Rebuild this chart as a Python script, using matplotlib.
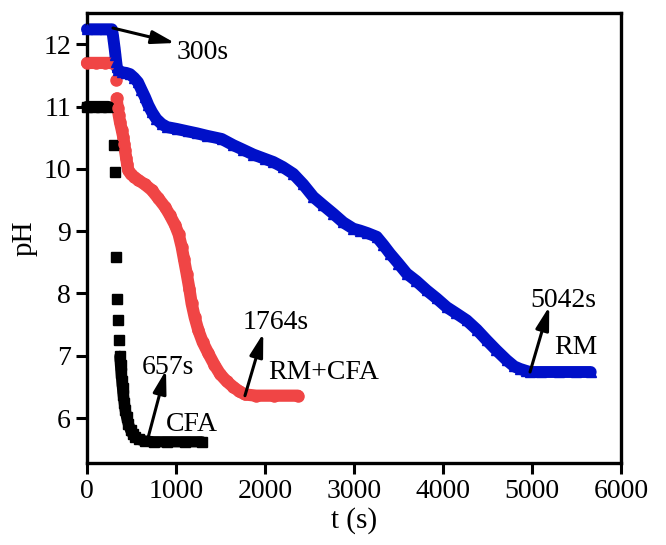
import numpy as np
import matplotlib
matplotlib.use("Agg")
import matplotlib.pyplot as plt

plt.rcParams['font.family'] = ['Liberation Serif', 'DejaVu Serif']

# --- data (t in s, pH) ---
cfa_t = [0, 80, 160, 240, 300, 312, 326, 337, 348, 360, 370, 377, 385, 392, 400,
         408, 419, 430, 445, 464, 490, 515, 539, 580, 652, 750, 900, 1100, 1290]
cfa_ph = [11.0, 11.0, 11.0, 11.0, 10.38, 9.95, 8.58, 7.91, 7.57, 7.26, 6.99, 6.85,
          6.72, 6.60, 6.48, 6.37, 6.25, 6.13, 6.02, 5.91, 5.81, 5.74, 5.70, 5.66,
          5.63, 5.62, 5.62, 5.62, 5.62]

mix_t = [0, 100, 200, 280, 322, 333, 345, 357, 371, 390, 408, 418, 427, 440, 452,
         464, 490, 530, 577, 650, 727, 800, 876, 930, 989, 1030, 1064, 1090, 1120,
         1150, 1176, 1210, 1251, 1300, 1363, 1430, 1494, 1570, 1644, 1710, 1775,
         1900, 2100, 2370]
mix_ph = [11.70, 11.70, 11.70, 11.70, 11.42, 11.13, 10.98, 10.86, 10.75, 10.63,
          10.51, 10.40, 10.30, 10.18, 10.07, 9.98, 9.92, 9.87, 9.82, 9.75, 9.66,
          9.53, 9.39, 9.26, 9.10, 8.95, 8.75, 8.55, 8.32, 8.08, 7.84, 7.62, 7.41,
          7.22, 7.04, 6.86, 6.71, 6.59, 6.50, 6.43, 6.38, 6.36, 6.36, 6.36]

rm_t = [0, 100, 200, 280, 292, 302, 312, 320, 328, 336, 350, 390, 440, 483, 530,
        573, 612, 652, 690, 730, 780, 839, 900, 1011, 1138, 1236, 1350, 1513,
        1644, 1750, 1869, 2000, 2094, 2200, 2318, 2430, 2543, 2650, 2768, 2880,
        2992, 3067, 3150, 3255, 3330, 3405, 3500, 3592, 3700, 3817, 3930, 4042,
        4150, 4266, 4380, 4491, 4600, 4716, 4800, 4865, 4930, 4978, 5100, 5300,
        5500, 5660]
rm_ph = [12.24, 12.24, 12.24, 12.24, 12.14, 12.03, 11.92, 11.82, 11.72, 11.63,
         11.58, 11.55, 11.54, 11.52, 11.46, 11.39, 11.27, 11.15, 11.02, 10.91,
         10.80, 10.72, 10.67, 10.64, 10.60, 10.57, 10.53, 10.48, 10.38, 10.31,
         10.23, 10.16, 10.11, 10.03, 9.92, 9.75, 9.55, 9.42, 9.28, 9.14, 9.04,
         9.01, 8.97, 8.91, 8.78, 8.64, 8.48, 8.32, 8.20, 8.05, 7.92, 7.78, 7.68,
         7.57, 7.42, 7.25, 7.09, 6.93, 6.83, 6.79, 6.76, 6.74, 6.74, 6.74, 6.74,
         6.74]

fig = plt.figure(figsize=(6.66, 5.45), dpi=100)
ax = fig.add_axes([0.1306, 0.1505, 0.8018, 0.8255])


def draw(t, ph, color, marker, ms):
    t = np.asarray(t, float)
    ph = np.asarray(ph, float)
    # connect only neighbours whose markers overlap anyway
    lt, lp = [t[0]], [ph[0]]
    for i in range(1, len(t)):
        if abs(ph[i] - ph[i - 1]) > 0.26:
            lt.append(np.nan)
            lp.append(np.nan)
        lt.append(t[i])
        lp.append(ph[i])
    ax.plot(lt, lp, '-', color=color, lw=ms * 1.1, solid_capstyle='round',
            solid_joinstyle='round', clip_on=False, zorder=2)
    ax.plot(t, ph, linestyle='none', marker=marker, ms=ms, color=color,
            mec=color, clip_on=False, zorder=3)


draw(cfa_t, cfa_ph, 'black', 's', 7.4)
draw(mix_t, mix_ph, '#F04545', 'o', 8.0)
draw(rm_t, rm_ph, '#0010C8', '^', 7.8)

ax.set_xlim(0, 6000)
ax.set_ylim(5.28, 12.5)
ax.set_xticks(range(0, 6001, 1000))
ax.set_yticks(range(6, 13))
ax.tick_params(axis='both', direction='out', length=8, width=2.2,
               labelsize=20, top=False, right=False)
for sp in ax.spines.values():
    sp.set_linewidth(2.4)

ax.set_xlabel('t (s)', fontsize=21, labelpad=2)
ax.set_ylabel('pH', fontsize=21, labelpad=4)

arrow = dict(arrowstyle='-|>,head_length=0.7,head_width=0.2',
             mutation_scale=20, lw=2.2, color='black',
             shrinkA=0, shrinkB=0)
fs = 20

# 300s
ax.annotate('', xy=(989, 12.02), xytext=(292, 12.26), arrowprops=arrow)
ax.text(1011, 11.86, '300s', fontsize=fs, ha='left', va='center')

# 657s / CFA
ax.annotate('', xy=(888, 6.77), xytext=(689, 5.70), arrowprops=arrow)
ax.text(905, 6.82, '657s', fontsize=fs, ha='center', va='center')
ax.text(1176, 5.90, 'CFA', fontsize=fs, ha='center', va='center')

# 1764s / RM+CFA
ax.annotate('', xy=(1981, 7.36), xytext=(1775, 6.36), arrowprops=arrow)
ax.text(2122, 7.54, '1764s', fontsize=fs, ha='center', va='center')
ax.text(2655, 6.74, 'RM+CFA', fontsize=fs, ha='center', va='center')

# 5042s / RM
ax.annotate('', xy=(5194, 7.79), xytext=(4978, 6.74), arrowprops=arrow)
ax.text(5352, 7.88, '5042s', fontsize=fs, ha='center', va='center')
ax.text(5492, 7.14, 'RM', fontsize=fs, ha='center', va='center')

fig.savefig('out.png', dpi=100)
